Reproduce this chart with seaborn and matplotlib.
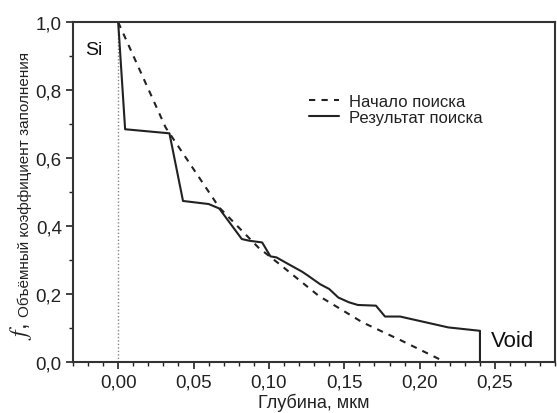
import matplotlib
matplotlib.use("Agg")
import matplotlib.pyplot as plt
import seaborn as sns
import pandas as pd
from matplotlib.ticker import FixedLocator, MultipleLocator, FixedFormatter

# ---- data ----
start_depth = [0.0, 0.0315, 0.067, 0.093, 0.1065, 0.133, 0.162, 0.188, 0.217]
start_f     = [1.0, 0.69, 0.455, 0.337, 0.29, 0.195, 0.117, 0.063, 0.0]

result_depth = [0.0, 0.0046, 0.034, 0.043, 0.060, 0.067, 0.073, 0.082, 0.087,
                0.0955, 0.101, 0.105, 0.113, 0.122, 0.126, 0.134, 0.140,
                0.146, 0.153, 0.159, 0.171, 0.177, 0.187, 0.206, 0.219,
                0.240, 0.240]
result_f     = [1.0, 0.685, 0.673, 0.474, 0.465, 0.452, 0.416, 0.362, 0.357,
                0.352, 0.311, 0.308, 0.288, 0.266, 0.254, 0.229, 0.215,
                0.190, 0.176, 0.168, 0.166, 0.134, 0.134, 0.115, 0.102,
                0.092, 0.0]

labels = ["Начало поиска", "Результат поиска"]
x_ticks = [0.0, 0.05, 0.10, 0.15, 0.20, 0.25]
x_ticklabels = ["0,00", "0,05", "0,10", "0,15", "0,20", "0,25"]
y_ticks = [0.0, 0.2, 0.4, 0.6, 0.8, 1.0]
y_ticklabels = ["0,0", "0,2", "0,4", "0,6", "0,8", "1,0"]
x_label = "Глубина, мкм"
y_label = "Объёмный коэффициент заполнения"

# ---- style ----
sns.set_style("ticks")
plt.rcParams["font.family"] = ["Liberation Sans", "DejaVu Sans"]
plt.rcParams["mathtext.fontset"] = "stix"

fig = plt.figure(figsize=(5.57, 4.14), dpi=100)
ax = fig.add_axes([0.131, 0.123, 0.866, 0.821])

df_start = pd.DataFrame({"d": start_depth, "f": start_f})
df_res = pd.DataFrame({"d": result_depth, "f": result_f})

ax.axvline(0.0, color="#888888", linestyle=(0, (1, 1.5)), lw=1.0, zorder=1)
sns.lineplot(data=df_start, x="d", y="f", ax=ax, sort=False, estimator=None,
             color="#222222", lw=1.5, linestyle=(0, (3, 3)), label=labels[0])
sns.lineplot(data=df_res, x="d", y="f", ax=ax, sort=False, estimator=None,
             color="#222222", lw=1.5, linestyle="-", label=labels[1])

ax.set_xlim(-0.03, 0.29)
ax.set_ylim(0.0, 1.0)
ax.xaxis.set_major_locator(FixedLocator(x_ticks))
ax.xaxis.set_major_formatter(FixedFormatter(x_ticklabels))
ax.xaxis.set_minor_locator(MultipleLocator(0.01))
ax.yaxis.set_major_locator(FixedLocator(y_ticks))
ax.yaxis.set_major_formatter(FixedFormatter(y_ticklabels))
ax.yaxis.set_minor_locator(MultipleLocator(0.1))

ax.tick_params(which="major", direction="out", length=5, width=1.2,
               labelsize=13.5, colors="#222222", pad=3)
ax.tick_params(which="minor", direction="out", length=3, width=1.0,
               colors="#222222")
for s in ax.spines.values():
    s.set_visible(True)
    s.set_linewidth(1.5)
    s.set_color("#333333")

ax.set_xlabel(x_label, fontsize=13, color="#222222", labelpad=2)
ax.set_ylabel(y_label, fontsize=11, color="#222222", va="center")
ax.yaxis.set_label_coords(-0.099, 0.526)
ax.text(-0.108, 0.093, r"$f$,", transform=ax.transAxes, rotation=90,
        fontsize=17, ha="center", va="center", color="#222222")

ax.text(0.025, 0.92, "Si", transform=ax.transAxes, fontsize=14,
        ha="left", va="center", color="#111111")
ax.text(0.867, 0.063, "Void", transform=ax.transAxes, fontsize=16,
        ha="left", va="center", color="#111111")

leg = ax.legend(loc="upper left", bbox_to_anchor=(0.49, 0.79), frameon=False,
                fontsize=12, handlelength=1.8, handletextpad=0.6,
                borderpad=0, borderaxespad=0, labelspacing=0.1)
for t in leg.get_texts():
    t.set_color("#222222")

fig.savefig("out.png", dpi=100)
